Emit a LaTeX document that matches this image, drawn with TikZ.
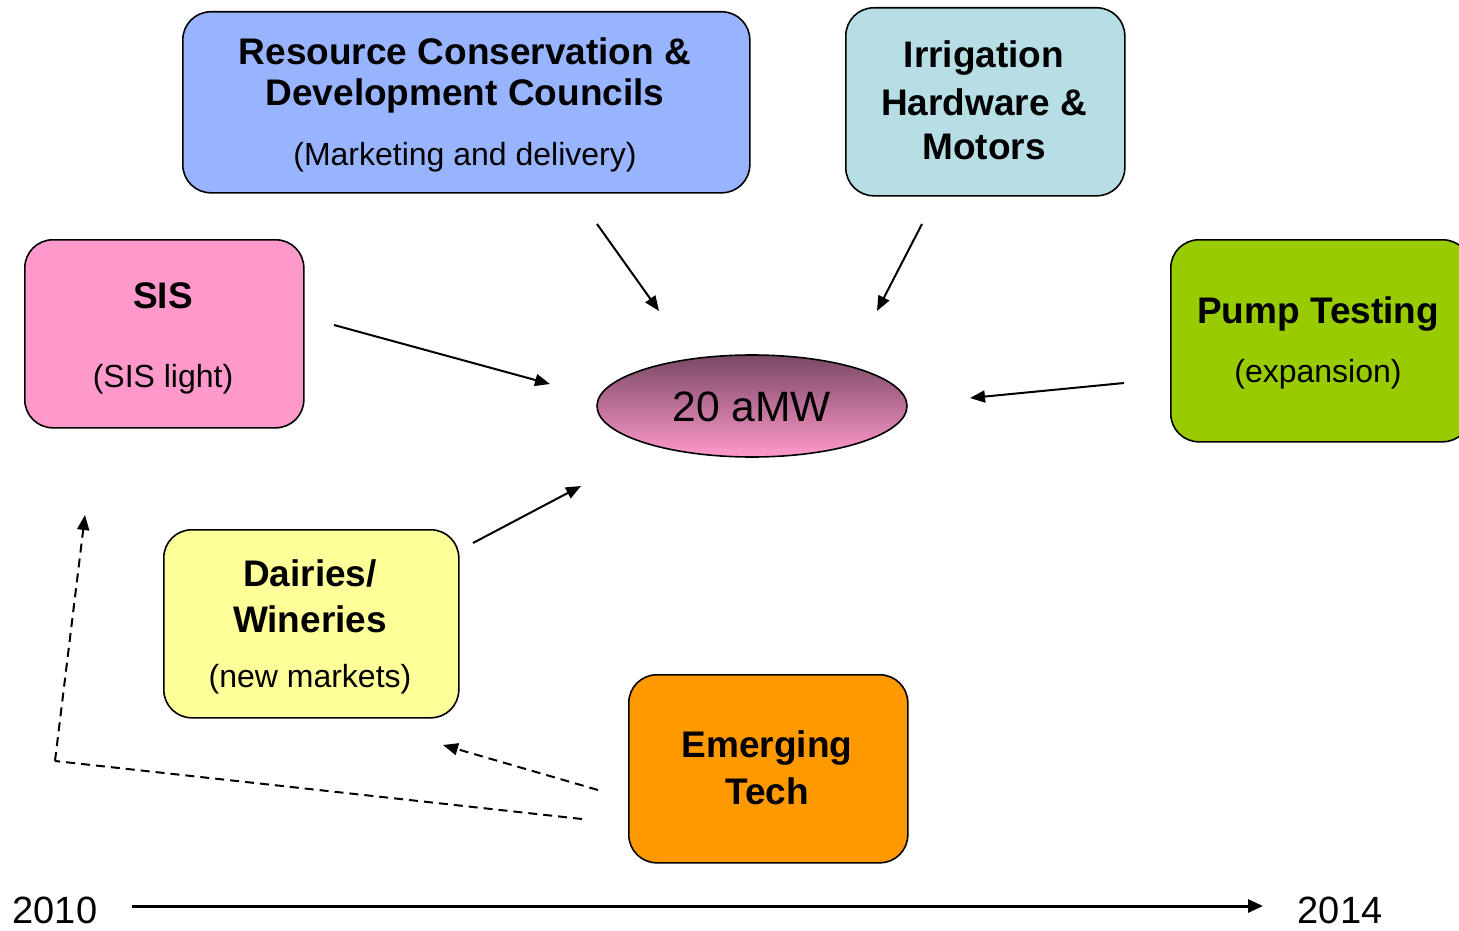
\documentclass[tikz,border=0pt]{standalone}
\usepackage{fontspec}
\setmainfont{Liberation Sans}
\usetikzlibrary{arrows.meta}
\definecolor{rcblue}{RGB}{153,180,255}
\definecolor{irrcyan}{RGB}{183,222,228}
\definecolor{sispink}{RGB}{255,153,204}
\definecolor{pumpgreen}{RGB}{153,204,0}
\definecolor{dairyyellow}{RGB}{255,255,153}
\definecolor{emorange}{RGB}{255,153,0}
\definecolor{elltop}{RGB}{122,72,100}
\tikzset{
  box/.style={draw=black, line width=1.6pt, rounded corners=28pt, inner sep=0pt, anchor=north west},
  title/.style={font=\fontsize{37}{42}\selectfont\bfseries, inner sep=0pt},
  sub/.style={font=\fontsize{32}{36}\selectfont, inner sep=0pt},
  conn/.style={line width=2pt, -{Triangle[length=15pt,width=12pt]}},
  dconn/.style={line width=2pt, dash pattern=on 9pt off 6pt, -{Triangle[length=15pt,width=12pt]}},
  dline/.style={line width=2pt, dash pattern=on 9pt off 6pt},
}
\begin{document}
\begin{tikzpicture}[x=1pt,y=-1pt]
\useasboundingbox (0,0) rectangle (1459,931);
\clip (0,0) rectangle (1459,931);
% boxes
\node[box, fill=rcblue, minimum width=567pt, minimum height=181pt] (rc) at (182,11) {};
\node[box, fill=irrcyan, minimum width=279pt, minimum height=188pt] (irr) at (845,7) {};
\node[box, fill=sispink, minimum width=279pt, minimum height=188pt] (sis) at (24,239) {};
\node[box, fill=pumpgreen, minimum width=300pt, minimum height=202pt] (pump) at (1170,239) {};
\node[box, fill=dairyyellow, minimum width=295pt, minimum height=188pt] (dairy) at (163,529) {};
\node[box, fill=emorange, minimum width=279pt, minimum height=188pt] (emerg) at (628,674) {};
% ellipse
\fill[top color=elltop, bottom color=sispink] (752,406) ellipse [x radius=155, y radius=51];
\draw[line width=1.6pt] (752,406) ellipse [x radius=155, y radius=51];
\node[font=\fontsize{42.5}{48}\selectfont, inner sep=0pt] (goal) at (752,407) {20 aMW};
% texts
\node[title] (rc1) at (465,51) {Resource Conservation \&};
\node[title] (rc2) at (465,96) {Development Councils};
\node[sub] (rc3) at (465,157) {(Marketing and delivery)};
\node[title] (irr1) at (984,58) {Irrigation};
\node[title] (irr2) at (984,102) {Hardware \&};
\node[title] (irr3) at (984,147) {Motors};
\node[title] (sis1) at (163,296) {SIS};
\node[sub] (sis2) at (163,379) {(SIS light)};
\node[title] (pump1) at (1318,314) {Pump Testing};
\node[sub] (pump2) at (1318,374) {(expansion)};
\node[title] (d1) at (310,573) {Dairies/};
\node[title] (d2) at (310,619) {Wineries};
\node[sub] (d3) at (310,679) {(new markets)};
\node[title] (e1) at (767,748) {Emerging};
\node[title] (e2) at (767,791) {Tech};
\node[font=\fontsize{38}{42}\selectfont, inner sep=0pt] (y0) at (55,910) {2010};
\node[font=\fontsize{38}{42}\selectfont, inner sep=0pt] (y1) at (1340,910) {2014};
% connector end points
\coordinate (a1s) at (597,224); \coordinate (a1e) at (659,311);
\coordinate (a2s) at (922,224); \coordinate (a2e) at (877,311);
\coordinate (a3s) at (334,325); \coordinate (a3e) at (550,384);
\coordinate (a4s) at (1124,383); \coordinate (a4e) at (970,398);
\coordinate (a5s) at (473,543); \coordinate (a5e) at (581,486);
\coordinate (d1s) at (598,790); \coordinate (d1e) at (443,745);
\coordinate (d2s) at (582,819); \coordinate (d2m) at (55,761); \coordinate (d2e) at (85,515);
\coordinate (ts) at (132,906); \coordinate (te) at (1263,906);
% connectors
\draw[conn] (a1s) -- (a1e);
\draw[conn] (a2s) -- (a2e);
\draw[conn] (a3s) -- (a3e);
\draw[conn] (a4s) -- (a4e);
\draw[conn] (a5s) -- (a5e);
\draw[dconn] (d1s) -- (d1e);
\draw[dline] (d2s) -- (d2m);
\draw[dconn] (d2m) -- (d2e);
\draw[line width=3pt, -{Triangle[length=15pt,width=13pt]}] (ts) -- (te);
\end{tikzpicture}
\end{document}
